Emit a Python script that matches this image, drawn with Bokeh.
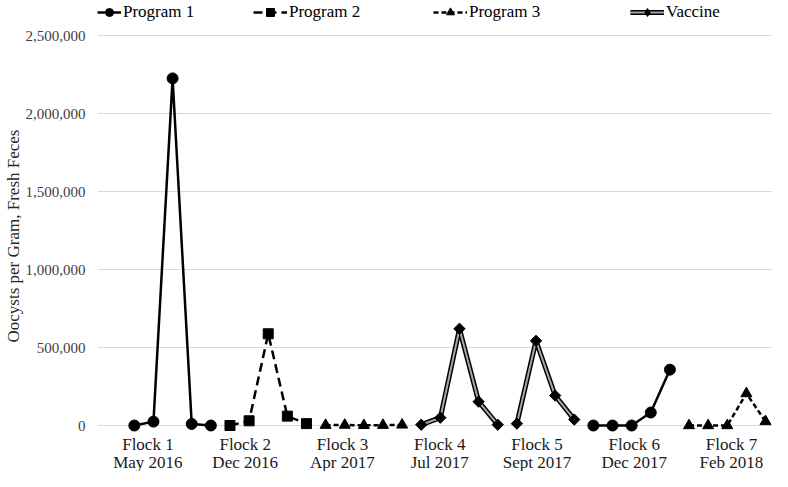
import math
from bokeh.plotting import figure
from bokeh.models import FixedTicker, Legend, LegendItem, NumeralTickFormatter, Range1d
from bokeh.core.properties import value
from bokeh.embed import file_html
from bokeh.resources import INLINE

# ---- data ----
flock_names = ["Flock 1", "Flock 2", "Flock 3", "Flock 4", "Flock 5", "Flock 6", "Flock 7"]
flock_dates = ["May 2016", "Dec 2016", "Apr 2017", "Jul 2017", "Sept 2017", "Dec 2017", "Feb 2018"]
flock_program = ["Program 1", "Program 2", "Program 3", "Vaccine", "Vaccine",
                 "Program 1", "Program 3"]
flock1 = [0, 25000, 2225000, 10000, 0]
flock2 = [0, 30000, 588000, 60000, 12000]
flock3 = [2000, 3000, 1000, 2000, 4000]
flock4 = [5000, 50000, 620000, 153000, 5000]
flock5 = [12000, 543000, 192000, 38000]
flock6 = [0, 0, 0, 83000, 358000]
flock7 = [0, 0, 0, 205000, 26000]
flock_values = [flock1, flock2, flock3, flock4, flock5, flock6, flock7]
y_ticks = [0, 500000, 1000000, 1500000, 2000000, 2500000]
programs = ["Program 1", "Program 2", "Program 3", "Vaccine"]

FONT = "Liberation Serif"

styles = {
    "Program 1": dict(marker="circle", size=11, angle=0, dash="solid", width=2.5),
    "Program 2": dict(marker="square", size=10, angle=0, dash="9 5", width=2.5),
    "Program 3": dict(marker="triangle", size=11, angle=0, dash="5 3", width=2.5),
    "Vaccine": dict(marker="square", size=8, angle=math.pi / 4, dash="solid", width=2.0),
}

# layout (screen px)
W, H = 772, 471
frame_left = 94
y_top_px, y_zero_px = 35, 425          # pixel rows of 2,500,000 and 0
px_per_unit = (y_zero_px - y_top_px) / 2500000
y_end = 2500000 + y_top_px / px_per_unit
y_start = -(H - y_zero_px) / px_per_unit
first_px, last_px = 131, 765
n_points = sum(len(v) for v in flock_values)
u = (last_px - first_px) / (n_points - 1)
x_start = -(first_px - frame_left) / u
x_end = (n_points - 1) + (W - last_px) / u

p = figure(width=W, height=H, output_backend="svg", toolbar_location=None,
           x_range=Range1d(x_start, x_end), y_range=Range1d(y_start, y_end),
           x_axis_location=None,
           min_border_left=frame_left, min_border_right=0, min_border_top=0,
           min_border_bottom=0)
p.outline_line_color = None
p.background_fill_color = "white"
p.border_fill_color = "white"

p.xgrid.grid_line_color = None
p.ygrid.grid_line_color = "#d9d9d9"
p.ygrid.grid_line_width = 1

# y axis
p.yaxis.ticker = FixedTicker(ticks=y_ticks)
p.yaxis.formatter = NumeralTickFormatter(format="0,0")
p.yaxis.axis_line_color = None
p.yaxis.major_tick_line_color = None
p.yaxis.minor_tick_line_color = None
p.yaxis.major_label_text_font = FONT
p.yaxis.major_label_text_font_size = "15px"
p.yaxis.major_label_text_color = "#404040"
p.yaxis.major_label_standoff = 6
p.yaxis.axis_label = "Oocysts per Gram, Fresh Feces"
p.yaxis.axis_label_text_font = FONT
p.yaxis.axis_label_text_font_size = "17px"
p.yaxis.axis_label_text_font_style = "normal"
p.yaxis.axis_label_text_color = "#262626"
p.yaxis.axis_label_standoff = 0

# flock category labels, centred on equal bands below the zero line
band = 5.085
label_pos = [0.71 + band * k for k in range(len(flock_names))]
line1_y = -(444 - y_zero_px) / px_per_unit
line2_y = -(462 - y_zero_px) / px_per_unit
for texts, ly in ((flock_names, line1_y), (flock_dates, line2_y)):
    p.text(x=label_pos, y=[ly] * len(texts), text=texts,
           text_font=value(FONT), text_font_size="17px", text_color="#1a1a1a",
           text_align="center", text_baseline="middle")

legend_renderers = {k: [] for k in programs}
start = 0
for prog, vals in zip(flock_program, flock_values):
    xs = list(range(start, start + len(vals)))
    start += len(vals)
    st = styles[prog]
    rs = []
    if prog == "Vaccine":
        rs.append(p.line(xs, vals, line_color="black", line_width=5))
        rs.append(p.line(xs, vals, line_color="#a6a6a6", line_width=2))
    else:
        rs.append(p.line(xs, vals, line_color="black", line_width=st["width"],
                         line_dash=st["dash"]))
    rs.append(p.scatter(xs, vals, marker=st["marker"], size=st["size"],
                        angle=st["angle"], fill_color="black", line_color="black"))
    if not legend_renderers[prog]:
        legend_renderers[prog] = rs

# the legend key for the vaccine shows a diamond marker (point not drawn: NaN)
vacc_key = p.scatter(x=[0], y=[float("nan")], marker="diamond", size=13,
                     fill_color="black", line_color="black")
legend_renderers["Vaccine"] = legend_renderers["Vaccine"][:2] + [vacc_key]

# one legend per item so each sits at its own place along the top
legend_x = [0, 156, 336, 533]
glyph_w = [24, 34, 34, 34]
for prog, lx, gw in zip(programs, legend_x, glyph_w):
    leg = Legend(items=[LegendItem(label=prog, renderers=legend_renderers[prog])],
                 location=(lx, H - 22), orientation="horizontal",
                 background_fill_alpha=0, border_line_alpha=0,
                 padding=0, margin=0, glyph_width=gw, glyph_height=20,
                 label_height=20, label_standoff=2,
                 label_text_font=FONT, label_text_font_size="17px",
                 label_text_color="black")
    p.add_layout(leg)

open("out.html", "w").write(file_html(p, INLINE))
